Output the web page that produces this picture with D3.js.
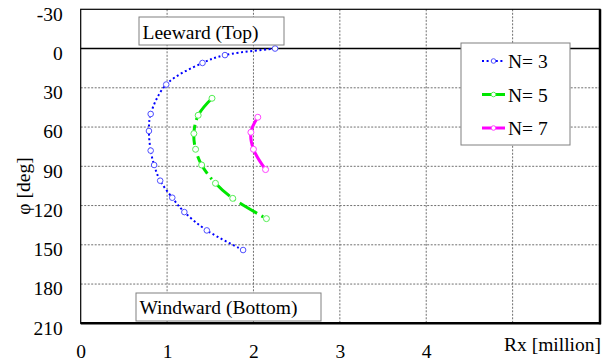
<!DOCTYPE html>
<html>
<head>
<meta charset="utf-8">
<script src="https://cdn.jsdelivr.net/npm/d3@7"></script>
<style>
  body { margin: 0; background: #fff; }
</style>
</head>
<body>
<div id="chart"></div>
<script>
// chart data
var phiN3 = [0, 5, 11, 27.5, 50, 63, 78, 89, 101, 114, 125, 139, 154];
var rxN3 = [2.25, 1.67, 1.41, 0.99, 0.81, 0.79, 0.81, 0.85, 0.92, 1.06, 1.20, 1.46, 1.88];
var phiN5 = [38, 51, 65, 77, 89, 103, 114.5, 130];
var rxN5 = [1.52, 1.36, 1.31, 1.33, 1.40, 1.56, 1.76, 2.15];
var phiN7 = [52.5, 64, 77, 92.5];
var rxN7 = [2.05, 1.97, 2.00, 2.14];
var seriesNames = ["N= 3", "N= 5", "N= 7"];
var xTicks = [0, 1, 2, 3, 4];
var yTicks = [-30, 0, 30, 60, 90, 120, 150, 180, 210];

var svgWidth = 613;
var svgHeight = 364;
var fontSize = "19.5px";
var serif = "Liberation Serif";

var svg = d3.select("#chart")
  .append("svg")
  .attr("width", svgWidth)
  .attr("height", svgHeight);

var plotLeft = 80.7, plotRight = 600, plotTop = 9.3, plotBottom = 323.3;

var xScale = d3.scaleLinear()
  .domain([0, 6])
  .range([plotLeft, 599]);

var yScale = d3.scaleLinear()
  .domain([-30, 210])
  .range([plotTop, plotBottom]);

// grid lines
var grid = svg.append("g");
grid.selectAll(".vgrid")
  .data([1, 2, 3, 4, 5])
  .enter()
  .append("line")
  .attr("x1", d => xScale(d))
  .attr("x2", d => xScale(d))
  .attr("y1", plotTop)
  .attr("y2", plotBottom)
  .attr("stroke", "#707070")
  .attr("stroke-width", 1)
  .attr("stroke-dasharray", "2,1.5");

grid.selectAll(".hgrid")
  .data(yTicks.filter(d => d !== -30 && d !== 0 && d !== 210))
  .enter()
  .append("line")
  .attr("x1", plotLeft)
  .attr("x2", plotRight)
  .attr("y1", d => yScale(d))
  .attr("y2", d => yScale(d))
  .attr("stroke", "#707070")
  .attr("stroke-width", 1)
  .attr("stroke-dasharray", "2,1.5");

// zero line
svg.append("line")
  .attr("x1", plotLeft)
  .attr("x2", plotRight)
  .attr("y1", yScale(0))
  .attr("y2", yScale(0))
  .attr("stroke", "#000")
  .attr("stroke-width", 1.5);

// plot frame
svg.append("rect")
  .attr("x", plotLeft)
  .attr("y", plotTop)
  .attr("width", plotRight - plotLeft)
  .attr("height", plotBottom - plotTop)
  .attr("fill", "none")
  .attr("stroke", "#000")
  .attr("stroke-width", 1.2);
svg.append("line")
  .attr("x1", plotRight).attr("x2", plotRight)
  .attr("y1", plotTop).attr("y2", plotBottom + 1)
  .attr("stroke", "#000").attr("stroke-width", 2.5);
svg.append("line")
  .attr("x1", plotLeft).attr("x2", plotRight + 1)
  .attr("y1", plotBottom).attr("y2", plotBottom)
  .attr("stroke", "#000").attr("stroke-width", 2.5);

// axes
var bottomAxis = d3.axisBottom(xScale)
  .tickValues(xTicks)
  .tickFormat(d => String(d))
  .tickSize(0)
  .tickPadding(21);
var xAxis = svg.append("g")
  .attr("transform", `translate(0, ${plotBottom})`)
  .call(bottomAxis);
xAxis.select(".domain").remove();
xAxis.selectAll("text")
  .style("font-family", serif)
  .style("font-size", fontSize)
  .attr("fill", "#000");

var leftAxis = d3.axisLeft(yScale)
  .tickValues(yTicks)
  .tickFormat(d => String(d))
  .tickSize(0)
  .tickPadding(18);
var yAxis = svg.append("g")
  .attr("transform", `translate(${plotLeft}, 0)`)
  .call(leftAxis);
yAxis.select(".domain").remove();
yAxis.selectAll("text")
  .style("font-family", serif)
  .style("font-size", fontSize)
  .attr("dy", "0.55em")
  .attr("fill", "#000");

// axis titles
svg.append("text")
  .attr("x", 601)
  .attr("y", 351)
  .attr("text-anchor", "end")
  .style("font-family", serif)
  .style("font-size", fontSize)
  .text("Rx [million]");

svg.append("text")
  .attr("transform", "translate(30, 186) rotate(-90)")
  .attr("text-anchor", "middle")
  .style("font-family", serif)
  .style("font-size", fontSize)
  .text("φ [deg]");

// series
var series = [
  { name: seriesNames[0], rx: rxN3, phi: phiN3, color: "#0000ff", marker: "#5050ff", width: 2, dash: "2,2.6", r: 2.8 },
  { name: seriesNames[1], rx: rxN5, phi: phiN5, color: "#00e600", marker: "#55ee55", width: 3, dash: "20,5,2,5", r: 3 },
  { name: seriesNames[2], rx: rxN7, phi: phiN7, color: "#ff00ff", marker: "#ff44ff", width: 3, dash: null, r: 3 }
];

var line = d3.line()
  .x(d => xScale(d[0]))
  .y(d => yScale(d[1]))
  .curve(d3.curveCatmullRom.alpha(0.5));

series.forEach(function(s) {
  var pts = s.rx.map((v, i) => [v, s.phi[i]]);
  svg.append("path")
    .datum(pts)
    .attr("d", line)
    .attr("fill", "none")
    .attr("stroke", s.color)
    .attr("stroke-width", s.width)
    .attr("stroke-dasharray", s.dash);

  svg.selectAll(null)
    .data(pts)
    .enter()
    .append("circle")
    .attr("cx", d => xScale(d[0]))
    .attr("cy", d => yScale(d[1]))
    .attr("r", s.r)
    .attr("fill", "#fff")
    .attr("stroke", s.marker)
    .attr("stroke-width", 1);
});

// Leeward / Windward boxes
function labelBox(x, y, w, h, label, baseline) {
  svg.append("rect")
    .attr("x", x).attr("y", y)
    .attr("width", w).attr("height", h)
    .attr("fill", "#fff")
    .attr("stroke", "#808080")
    .attr("stroke-width", 1);
  svg.append("text")
    .attr("x", x + 3.5)
    .attr("y", baseline)
    .style("font-family", serif)
    .style("font-size", fontSize)
    .text(label);
}
labelBox(139, 17, 145, 28, "Leeward (Top)", 38.5);
labelBox(136, 293, 185, 28, "Windward (Bottom)", 314);

// legend
var legend = svg.append("g");
legend.append("rect")
  .attr("x", 461).attr("y", 43)
  .attr("width", 109).attr("height", 102)
  .attr("fill", "#fff")
  .attr("stroke", "#808080")
  .attr("stroke-width", 1);

var legendY = [61, 94.5, 128];
series.forEach(function(s, i) {
  var ly = legendY[i];
  legend.append("line")
    .attr("x1", 482).attr("x2", 505)
    .attr("y1", ly).attr("y2", ly)
    .attr("stroke", s.color)
    .attr("stroke-width", s.width)
    .attr("stroke-dasharray", i === 0 ? s.dash : null);
  legend.append("circle")
    .attr("cx", 493.5).attr("cy", ly)
    .attr("r", 2.3)
    .attr("fill", "#fff")
    .attr("stroke", s.marker);
  legend.append("text")
    .attr("x", 508)
    .attr("y", ly + 7)
    .style("font-family", serif)
    .style("font-size", fontSize)
    .text(s.name);
});
</script>
</body>
</html>
